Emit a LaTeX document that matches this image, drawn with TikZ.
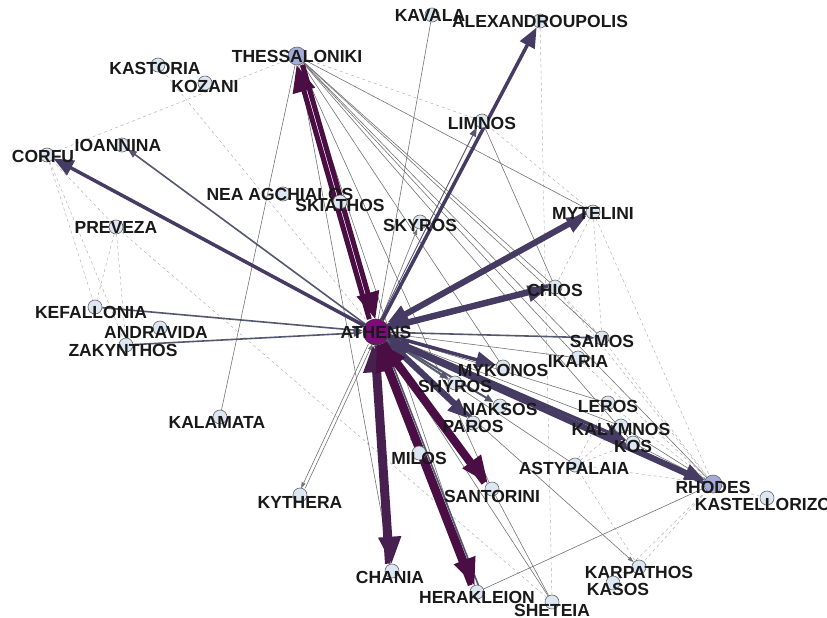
\documentclass[tikz,border=0pt]{standalone}
\usepackage{fontspec}
\setmainfont{Liberation Sans}
\usetikzlibrary{arrows.meta,backgrounds}
\definecolor{hubfill}{HTML}{7E0B7A}
\definecolor{bigfill}{HTML}{A3ACD8}
\definecolor{portfill}{HTML}{DCE7F3}
\definecolor{heavycol}{HTML}{4A0E44}
\definecolor{crete}{HTML}{47204F}
\definecolor{flowcol}{HTML}{463B63}
\definecolor{routecol}{HTML}{55566F}

\begin{document}
\begin{tikzpicture}[x=1pt, y=-1pt,
	airport/.style={circle, draw=black!60, fill=portfill, inner sep=0pt, minimum size=14pt, line width=0.6pt},
	bigport/.style={airport, fill=bigfill, minimum size=18pt},
	hub/.style={airport, draw=black!80, fill=hubfill, minimum size=26pt},
	lbl/.style={font=\bfseries\fontsize{17.5}{17.5}\selectfont, text=black!90, inner sep=0pt, yshift=-3pt},
	heavy/.style={draw=heavycol, line width=5pt, -{Triangle[length=27pt,width=22pt]}},
	flow/.style={draw=flowcol, line width=3.5pt, -{Triangle[length=20pt,width=16pt]}},
	route/.style={draw=routecol, line width=1.6pt, -{Triangle[length=9pt,width=7pt]}},
	link/.style={draw=black!55, line width=0.6pt},
	faint/.style={draw=black!35, line width=0.4pt, dashed},
	]
	\useasboundingbox (0,0) rectangle (827,618);

		%Airports
    \node[hub]     (ath)    at (376,332) [label={[lbl,yshift=3pt]center:ATHENS}] {};
    \node[bigport] (thes)   at (297,56)  [label={[lbl,yshift=3pt]center:THESSALONIKI}] {};
    \node[bigport] (rho)    at (713,484) [label={[lbl]center:RHODES}] {};
    \node[airport] (kav)    at (432,15)  [label={[lbl,xshift=-2pt,yshift=3pt]center:KAVALA}] {};
    \node[airport] (alex)   at (540,21)  [label={[lbl,yshift=3pt]center:ALEXANDROUPOLIS}] {};
    \node[airport] (kast)   at (158,65)  [label={[lbl,xshift=-3pt]center:KASTORIA}] {};
    \node[airport] (koz)    at (205,83)  [label={[lbl]center:KOZANI}] {};
    \node[airport] (ioa)    at (122,145) [label={[lbl,xshift=-4pt,yshift=3pt]center:IOANNINA}] {};
    \node[airport] (cor)    at (47,155)  [label={[lbl,xshift=-4pt,yshift=2pt]center:CORFU}] {};
    \node[airport] (nea)    at (283,194) [label={[lbl,xshift=-3pt,yshift=3pt]center:NEA AGCHIALOS}] {};
    \node[airport] (ski)    at (340,202) [label={[lbl]center:SKIATHOS}] {};
    \node[airport] (sky)    at (420,222) [label={[lbl]center:SKYROS}] {};
    \node[airport] (lim)    at (482,121) [label={[lbl,yshift=1pt]center:LIMNOS}] {};
    \node[airport] (myt)    at (593,212) [label={[lbl,yshift=2pt]center:MYTELINI}] {};
    \node[airport] (chi)    at (555,287) [label={[lbl]center:CHIOS}] {};
    \node[airport] (sam)    at (602,338) [label={[lbl]center:SAMOS}] {};
    \node[airport] (ika)    at (578,358) [label={[lbl]center:IKARIA}] {};
    \node[airport] (myk)    at (503,367) [label={[lbl]center:MYKONOS}] {};
    \node[airport] (shy)    at (455,383) [label={[lbl]center:SHYROS}] {};
    \node[airport] (nak)    at (500,406) [label={[lbl]center:NAKSOS}] {};
    \node[airport] (par)    at (473,423) [label={[lbl]center:PAROS}] {};
    \node[airport] (ler)    at (608,403) [label={[lbl]center:LEROS}] {};
    \node[airport] (kal)    at (621,426) [label={[lbl]center:KALYMNOS}] {};
    \node[airport] (kos)    at (633,443) [label={[lbl]center:KOS}] {};
    \node[airport] (ast)    at (575,465) [label={[lbl,xshift=-1pt]center:ASTYPALAIA}] {};
    \node[airport] (kastel) at (767,498) [label={[lbl,xshift=-4pt,yshift=-3pt]center:KASTELLORIZO}] {};
    \node[airport] (karp)   at (639,567) [label={[lbl,yshift=-2pt]center:KARPATHOS}] {};
    \node[airport] (kas)    at (613,583) [label={[lbl,xshift=5pt,yshift=-3pt]center:KASOS}] {};
    \node[airport] (her)    at (477,592) [label={[lbl,yshift=-2pt]center:HERAKLEION}] {};
    \node[airport] (she)    at (552,602) [label={[lbl,yshift=-5pt]center:SHETEIA}] {};
    \node[airport] (san)    at (492,489) [label={[lbl,yshift=-4pt]center:SANTORINI}] {};
    \node[airport] (mil)    at (419,453) [label={[lbl,yshift=-2pt]center:MILOS}] {};
    \node[airport] (cha)    at (392,571) [label={[lbl,xshift=-2pt,yshift=-3pt]center:CHANIA}] {};
    \node[airport] (kyt)    at (300,495) [label={[lbl,yshift=-4pt]center:KYTHERA}] {};
    \node[airport] (kala)   at (220,417) [label={[lbl,xshift=-3pt,yshift=-2pt]center:KALAMATA}] {};
    \node[airport] (kef)    at (95,307)  [label={[lbl,xshift=-4pt,yshift=-2pt]center:KEFALLONIA}] {};
    \node[airport] (and)    at (160,328) [label={[lbl,xshift=-4pt,yshift=-1pt]center:ANDRAVIDA}] {};
    \node[airport] (zak)    at (126,345) [label={[lbl,xshift=-3pt,yshift=-2pt]center:ZAKYNTHOS}] {};
    \node[airport] (pre)    at (116,227) [label={[lbl,yshift=3pt]center:PREVEZA}] {};

		%Routes
	\begin{scope}[on background layer]
		\draw[faint] (cor) -- (thes);
		\draw[faint] (cor) -- (kef);
		\draw[faint] (cor) -- (zak);
		\draw[faint] (cor) -- (pre);
		\draw[faint] (pre) -- (kef);
		\draw[faint] (pre) -- (zak);
		\draw[faint] (pre) -- (she);
		\draw[faint] (kast) -- (ath);
		\draw[faint] (alex) -- (she);
		\draw[faint] (thes) -- (lim);
		\draw[faint] (lim) -- (myt);
		\draw[faint] (myt) -- (chi);
		\draw[faint] (myt) -- (sam);
		\draw[faint] (myt) -- (rho);
		\draw[faint] (chi) -- (sam);
		\draw[faint] (chi) -- (rho);
		\draw[faint] (sam) -- (rho);
		\draw[faint] (ika) -- (rho);
		\draw[faint] (ler) -- (rho);
		\draw[faint] (ast) -- (rho);
		\draw[faint] (ast) -- (kos);
		\draw[faint] (ast) -- (ler);
		\draw[faint] (ast) -- (kal);
		\draw[faint] (ast) -- (karp);
		\draw[faint] (rho) -- (karp);
		\draw[faint] (rho) -- (kas);
		\draw[faint] (karp) -- (kas);
		\draw[faint] (rho) -- (kastel);
		\draw[link] (thes) -- (kala);
		\draw[link] (thes) -- (myt);
		\draw[link] (thes) -- (chi);
		\draw[link] (thes) -- (sam);
		\draw[link] (thes) -- (ika);
		\draw[link] (thes) -- (myk);
		\draw[link] (thes) -- (rho);
		\draw[link] (thes) -- (kos);
		\draw[link] (thes) -- (san);
		\draw[link] (thes) -- (her);
		\draw[link] (thes) -- (cha);
		\draw[link] (lim) -- (chi);
		\draw[link] (kal) -- (rho);
		\draw[link] (kos) -- (rho);
		\draw[link] (her) -- (rho);
		\draw[link] (san) -- (she);
		\draw[link] (ath) -- (kav);
		\draw[link] (ath) -- (ika);
		\draw[link] (ath) -- (ler);
		\draw[link] (ath) -- (kal);
		\draw[link] (ath) -- (ast);
		\draw[link] (ath) -- (she);
		\draw[link, -{Triangle[length=6pt,width=4pt]}] (ath) -- (sky);
		\draw[link, -{Triangle[length=6pt,width=4pt]}] (ath) -- (karp);
		\draw[link, -{Triangle[length=6pt,width=4pt]}, transform canvas={xshift=-2pt}] (ath) -- (kyt);
		\draw[link, -{Triangle[length=6pt,width=4pt]}, transform canvas={xshift=2pt}] (kyt) -- (ath);
		\draw[route, line width=0.9pt, transform canvas={xshift=-2pt}] (ath) -- (lim);
		\draw[route] (ath) -- (ioa);
		\draw[route] (kef) -- (ath);
		\draw[route] (zak) -- (ath);
		\draw[route] (ath) -- (sam);
		\draw[route] (ath) -- (shy);
		\draw[route, line width=2pt] (ath) -- (nak);
		\draw[route, line width=1pt] (ath) -- (mil);
		\draw[route, transform canvas={xshift=4pt}] (her) -- (ath);
		\draw[flow] (ath) -- (cor);
		\draw[flow] (ath) -- (alex);
		\draw[flow] (ath) -- (myt);
		\draw[flow] (ath) -- (chi);
		\draw[flow] (ath) -- (kos);
		\draw[flow] (ath) -- (rho);
		\draw[flow] (ath) -- (myk);
		\draw[flow] (ath) -- (par);
		\draw[flow, transform canvas={yshift=3pt}] (myt) -- (ath);
		\draw[flow, transform canvas={yshift=3pt}] (chi) -- (ath);
		\draw[flow, transform canvas={yshift=-3pt}] (rho) -- (ath);
		\draw[flow, transform canvas={xshift=4pt}] (par) -- (ath);
		\draw[heavy, draw=crete] (ath) -- (cha);
		\draw[heavy, draw=crete, transform canvas={xshift=-4pt}] (cha) -- (ath);
		\draw[heavy] (ath) -- (her);
		\draw[heavy, transform canvas={xshift=-4pt}] (her) -- (ath);
		\draw[heavy] (ath) -- (san);
		\draw[heavy, transform canvas={xshift=-4pt}] (san) -- (ath);
		\draw[heavy, transform canvas={xshift=-3pt}] (ath) -- (thes);
		\draw[heavy, transform canvas={xshift=3pt}] (thes) -- (ath);
	\end{scope}
\end{tikzpicture}
\end{document}
